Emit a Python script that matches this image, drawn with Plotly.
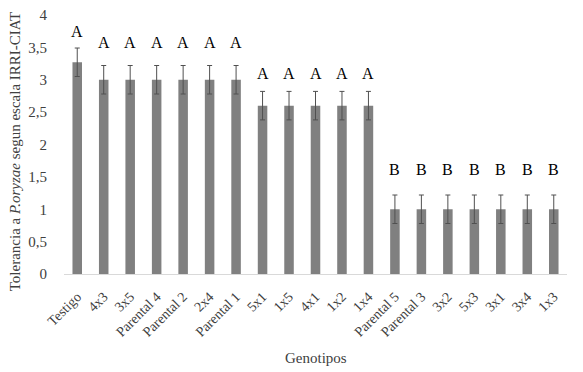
import plotly.graph_objects as go

genotipos = ["Testigo", "4x3", "3x5", "Parental 4", "Parental 2", "2x4", "Parental 1",
             "5x1", "1x5", "4x1", "1x2", "1x4",
             "Parental 5", "Parental 3", "3x2", "5x3", "3x1", "3x4", "1x3"]
tolerancia = [3.27, 3.0, 3.0, 3.0, 3.0, 3.0, 3.0,
              2.6, 2.6, 2.6, 2.6, 2.6,
              1.0, 1.0, 1.0, 1.0, 1.0, 1.0, 1.0]
error = [0.22, 0.22, 0.22, 0.22, 0.22, 0.22, 0.22,
         0.22, 0.22, 0.22, 0.22, 0.22,
         0.22, 0.22, 0.22, 0.22, 0.22, 0.22, 0.22]
letras = ["A"] * 12 + ["B"] * 7
letra_y = [3.74, 3.57, 3.57, 3.57, 3.57, 3.57, 3.57,
           3.09, 3.09, 3.09, 3.09, 3.09,
           1.62, 1.62, 1.62, 1.62, 1.62, 1.62, 1.62]

serif = "Liberation Serif"

fig = go.Figure()
fig.add_trace(go.Bar(
    x=genotipos, y=tolerancia,
    marker=dict(color="#808080", line=dict(width=0)),
    error_y=dict(type="data", array=error, visible=True, color="#505050",
                 thickness=1, width=2.5),
    width=0.36,
))

for g, l, ly in zip(genotipos, letras, letra_y):
    fig.add_annotation(x=g, y=ly, text=l, showarrow=False, xref="x", yref="y",
                       font=dict(family=serif, size=16, color="#000000"))

fig.add_annotation(xref="paper", yref="paper", x=(15 - 64) / 503, y=0.47,
                   text="Tolerancia a <i>P.oryzae</i> segun escala IRRI-CIAT",
                   textangle=-90, showarrow=False, xanchor="center", yanchor="middle",
                   font=dict(family=serif, size=15, color="#404040"))
fig.add_annotation(xref="paper", yref="paper", x=0.5, y=-(356 - 272) / 259,
                   text="Genotipos", showarrow=False, xanchor="center", yanchor="middle",
                   font=dict(family=serif, size=15, color="#404040"))

fig.update_layout(
    width=583, height=372,
    margin=dict(l=56, r=24, t=7, b=106),
    paper_bgcolor="white", plot_bgcolor="white",
    showlegend=False,
    font=dict(family=serif, size=14, color="#404040"),
)
fig.update_xaxes(showline=True, linecolor="#d9d9d9", linewidth=1, showgrid=False,
                 tickangle=-45, tickfont=dict(family=serif, size=14, color="#404040"),
                 ticks="", range=[-0.5, 18.5], automargin=False,
                 ticklabelstandoff=8)
fig.update_yaxes(range=[0, 4], showgrid=False, showline=False, zeroline=False,
                 tickvals=[0, 0.5, 1, 1.5, 2, 2.5, 3, 3.5, 4],
                 ticktext=["0", "0,5", "1", "1,5", "2", "2,5", "3", "3,5", "4"],
                 tickfont=dict(family=serif, size=15, color="#404040"),
                 ticklabelstandoff=16, automargin=False,
                 ticklabeloverflow="allow")

fig.write_html("out.html")
